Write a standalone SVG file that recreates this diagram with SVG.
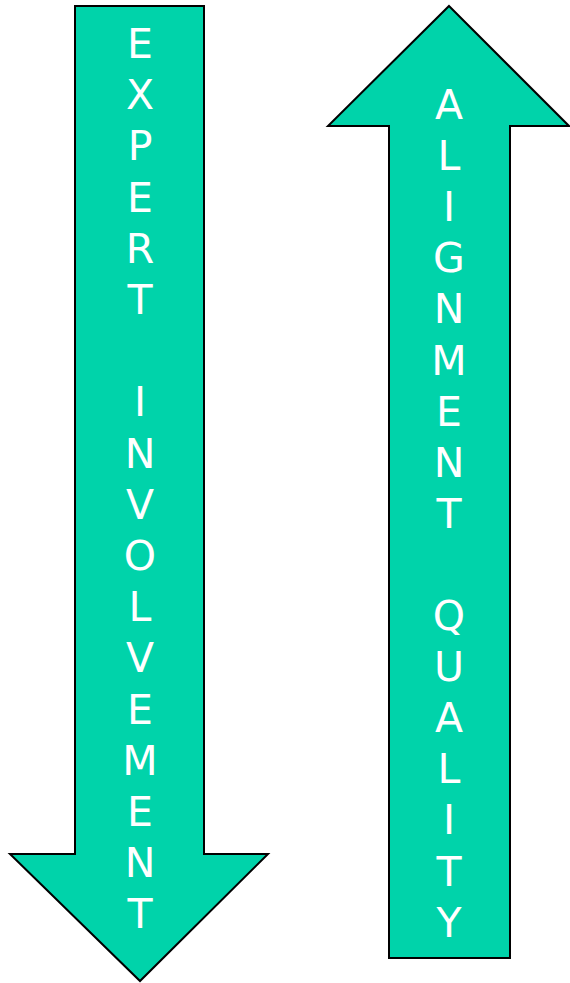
<svg xmlns="http://www.w3.org/2000/svg" width="570" height="983" viewBox="0 0 570 983">
<style>
.arrow{fill:#00d3aa;stroke:#000;stroke-width:2;stroke-linejoin:miter}
.lbl{fill:#fff;font-family:"DejaVu Sans",Verdana,sans-serif;font-size:41px;text-anchor:middle}
</style>
<rect width="570" height="983" fill="#fff"/>
<g id="expert-involvement">
<polygon class="arrow" points="75,6 204,6 204,854 268,854 140,981 10,854 75,854"/>
<g class="lbl">
<text x="140" y="58">E</text>
<text x="140" y="109.2">X</text>
<text x="140" y="160.4">P</text>
<text x="140" y="211.6">E</text>
<text x="140" y="262.8">R</text>
<text x="140" y="314">T</text>
<text x="140" y="416.4">I</text>
<text x="140" y="467.6">N</text>
<text x="140" y="518.8">V</text>
<text x="140" y="570">O</text>
<text x="140" y="621.2">L</text>
<text x="140" y="672.4">V</text>
<text x="140" y="723.6">E</text>
<text x="140" y="774.8">M</text>
<text x="140" y="826">E</text>
<text x="140" y="877.2">N</text>
<text x="140" y="928.4">T</text>
</g>
</g>
<g id="alignment-quality">
<polygon class="arrow" points="449,6 569,126 510,126 510,958 389,958 389,126 328,126"/>
<g class="lbl">
<text x="449" y="119">A</text>
<text x="449" y="170.1">L</text>
<text x="449" y="221.2">I</text>
<text x="449" y="272.3">G</text>
<text x="449" y="323.4">N</text>
<text x="449" y="374.5">M</text>
<text x="449" y="425.6">E</text>
<text x="449" y="476.7">N</text>
<text x="449" y="527.8">T</text>
<text x="449" y="630">Q</text>
<text x="449" y="681.1">U</text>
<text x="449" y="732.2">A</text>
<text x="449" y="783.3">L</text>
<text x="449" y="834.4">I</text>
<text x="449" y="885.5">T</text>
<text x="449" y="936.6">Y</text>
</g>
</g>
<g id="connectors"/>
</svg>
